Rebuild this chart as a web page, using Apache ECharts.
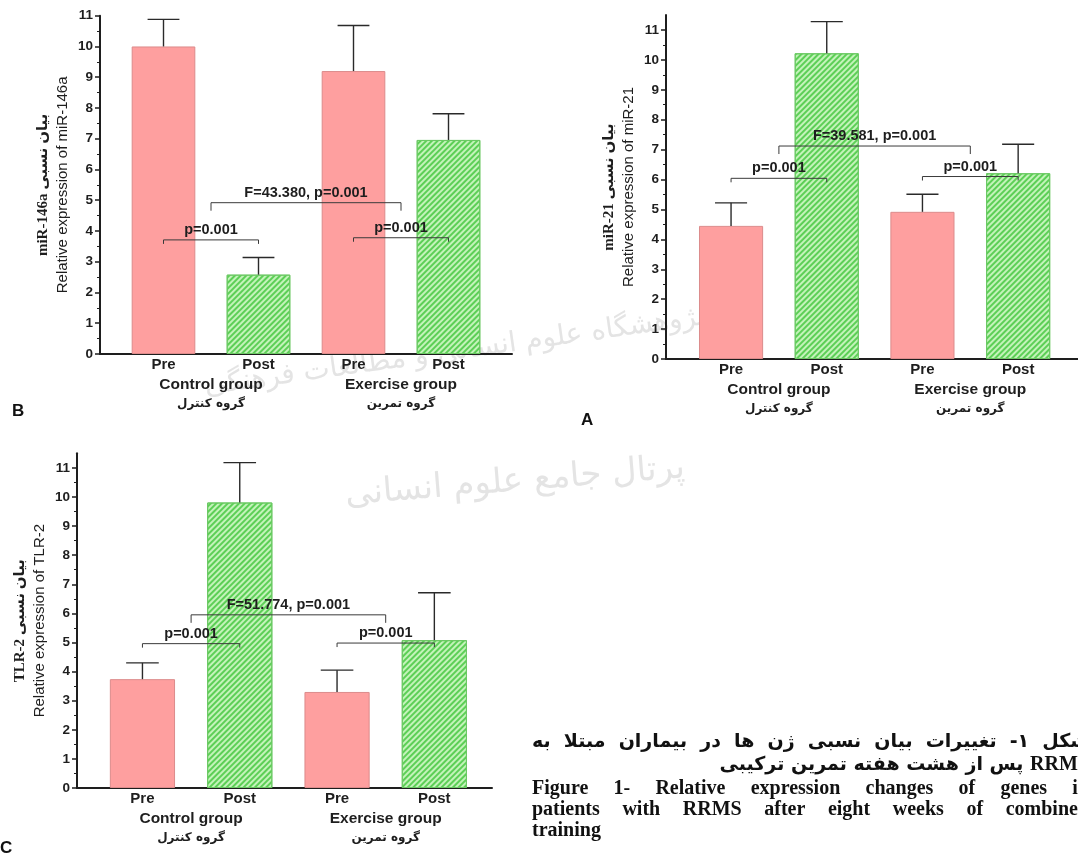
<!DOCTYPE html>
<html>
<head>
<meta charset="utf-8">
<script src="https://cdn.jsdelivr.net/npm/echarts@6/dist/echarts.min.js"></script>
<style>
html,body{margin:0;padding:0;background:#fff;}
#c{width:1078px;height:855px;}
</style>
</head>
<body>
<div id="c"></div>
<script>
// ---------- data ----------
const categories = ['Pre', 'Post', 'Pre', 'Post'];
const groups = ['Control group', 'Exercise group'];
const groupsFa = ['گروه کنترل', 'گروه تمرین'];
const yTickValues = [0, 1, 2, 3, 4, 5, 6, 7, 8, 9, 10, 11];

// Panel B: miR-146a
const miR146aMean = [10.0, 2.58, 9.2, 6.96];
const miR146aSD = [0.88, 0.56, 1.48, 0.85];
const miR146aBracketY = [3.71, 3.78, 4.92];
const miR146aBracketText = ['p=0.001', 'p=0.001', 'F=43.380, p=0.001'];

// Panel A: miR-21
const miR21Mean = [4.45, 10.22, 4.92, 6.21];
const miR21SD = [0.77, 1.06, 0.59, 0.97];
const miR21BracketY = [6.04, 6.10, 7.12];
const miR21BracketText = ['p=0.001', 'p=0.001', 'F=39.581, p=0.001'];

// Panel C: TLR-2
const tlr2Mean = [3.74, 9.81, 3.30, 5.08];
const tlr2SD = [0.56, 1.37, 0.75, 1.63];
const tlr2BracketY = [4.96, 4.98, 5.95];
const tlr2BracketText = ['p=0.001', 'p=0.001', 'F=51.774, p=0.001'];

// bracket endpoints (category indices; several = their midpoint)
const bracketLeft = [[0], [2], [0, 1]];
const bracketRight = [[1], [3], [2, 3]];

// caption (Persian words in reading order, right to left)
const capFa1 = ['شکل', '\u200F۱-\u200F', 'تغییرات', 'بیان', 'نسبی', 'ژن', 'ها', 'در', 'بیماران', 'مبتلا', 'به'];
const capFa2 = ['RRMS', 'پس', 'از', 'هشت', 'هفته', 'تمرین', 'ترکیبی'];
const capEn1 = ['Figure', '1-', 'Relative', 'expression', 'changes', 'of', 'genes', 'in'];
const capEn2 = ['patients', 'with', 'RRMS', 'after', 'eight', 'weeks', 'of', 'combined'];
const capEn3 = ['training'];
const watermark1 = 'پژوهشگاه علوم انسانی و مطالعات فرهنگی';
const watermark2 = 'پرتال جامع علوم انسانی';

// ---------- layout ----------
const panels = [
  { mean: miR146aMean, sd: miR146aSD, bY: miR146aBracketY, bT: miR146aBracketText,
    t1: 'miR-146a بیان نسبی', t2: 'Relative expression of miR-146a',
    axisX: 100, top: 15.7, y0: 354, right: 512, barsLeft: 116, spacing: 95, ymax: 11 },
  { mean: miR21Mean, sd: miR21SD, bY: miR21BracketY, bT: miR21BracketText,
    t1: 'miR-21 بیان نسبی', t2: 'Relative expression of miR-21',
    axisX: 666, top: 15, y0: 359, right: 1078, barsLeft: 683.2, spacing: 95.7, ymax: 11.5 },
  { mean: tlr2Mean, sd: tlr2SD, bY: tlr2BracketY, bT: tlr2BracketText,
    t1: 'TLR-2 بیان نسبی', t2: 'Relative expression of TLR-2',
    axisX: 77, top: 453.3, y0: 788, right: 492, barsLeft: 93.8, spacing: 97.3, ymax: 11.5 }
];

const INK = '#1e1e1e';
const pinkStyle = { color: '#fe9f9f', borderColor: '#dc8b8b', borderWidth: 1 };
const greenStyle = {
  color: '#c4f3ba', borderColor: '#6cc864', borderWidth: 1,
  decal: { symbol: 'rect', symbolSize: 1, color: '#5ccf56', dashArrayX: [1, 0], dashArrayY: [1.6, 1.8], rotation: -Math.PI / 4 }
};

const grids = [], xAxes = [], yAxes = [], series = [];

panels.forEach(p => {
  const gF = grids.length;
  const h = p.y0 - p.top;
  grids.push({ left: p.axisX, top: p.top, width: p.right - p.axisX, height: h, containLabel: false, outerBoundsMode: 'none' });
  grids.push({ left: p.barsLeft, top: p.top, width: 4 * p.spacing, height: h, containLabel: false, outerBoundsMode: 'none' });

  xAxes.push({ gridIndex: gF, type: 'value', min: 0, max: 1, position: 'bottom',
    axisLine: { show: true, onZero: false, lineStyle: { color: INK, width: 2 } },
    axisTick: { show: false }, axisLabel: { show: false }, splitLine: { show: false } });
  yAxes.push({ gridIndex: gF, type: 'value', min: 0, max: p.ymax, interval: 1,
    axisLine: { show: true, lineStyle: { color: INK, width: 2 } },
    axisTick: { show: true, length: 5, lineStyle: { color: INK, width: 1.5 }, customValues: yTickValues },
    minorTick: { show: true, splitNumber: 2, length: 3, lineStyle: { color: INK, width: 1 } },
    splitLine: { show: false },
    axisLabel: { color: INK, fontFamily: 'Liberation Sans', fontWeight: 'bold', fontSize: 13.5, margin: 7,
      customValues: yTickValues, formatter: v => (Math.abs(v - Math.round(v)) < 1e-9 ? String(Math.round(v)) : '') },
    name: '{t|' + p.t1 + '}\n{e|' + p.t2 + '}',
    nameLocation: 'middle', nameRotate: 90, nameGap: 28,
    nameTextStyle: { rich: {
      t: { fontFamily: '"Liberation Serif", "DejaVu Sans"', fontWeight: 'bold', fontSize: 15, lineHeight: 19, color: INK },
      e: { fontFamily: 'Liberation Sans', fontSize: 15, lineHeight: 19, color: INK }
    } } });

  const xB = xAxes.length;
  xAxes.push({ gridIndex: gF + 1, type: 'category', data: categories, position: 'bottom',
    axisLine: { show: false }, axisTick: { show: false },
    axisLabel: { color: INK, fontFamily: 'Liberation Sans', fontWeight: 'bold', fontSize: 15, margin: 3 } });
  xAxes.push({ gridIndex: gF + 1, type: 'category', data: groups, position: 'bottom',
    axisLine: { show: false }, axisTick: { show: false },
    axisLabel: { margin: 21, formatter: (v, i) => '{en|' + v + '}\n{fa|' + groupsFa[i] + '}',
      rich: {
        en: { fontFamily: 'Liberation Sans', fontWeight: 'bold', fontSize: 15.5, lineHeight: 19, color: INK },
        fa: { fontFamily: '"DejaVu Sans"', fontWeight: 'bold', fontSize: 12, lineHeight: 19, color: INK }
      } } });
  const yB = yAxes.length;
  yAxes.push({ gridIndex: gF + 1, type: 'value', min: 0, max: p.ymax, show: false, splitLine: { show: false } });

  series.push({ type: 'bar', xAxisIndex: xB, yAxisIndex: yB, barWidth: '67%', silent: true,
    data: p.mean.map((v, i) => ({ value: v, itemStyle: i % 2 ? greenStyle : pinkStyle })) });

  series.push({ type: 'custom', xAxisIndex: xB, yAxisIndex: yB, silent: true, z: 3,
    encode: { x: 0, y: 1 },
    data: p.mean.map((v, i) => [i, v, p.sd[i]]),
    renderItem: (params, api) => {
      const i = api.value(0), m = api.value(1), s = api.value(2);
      const a = api.coord([i, m]);
      const b = api.coord([i, m + s]);
      const half = api.size([1, 0])[0] * 0.67 / 4;
      const st = { stroke: '#2a2a2a', lineWidth: 1.4 };
      return { type: 'group', children: [
        { type: 'line', shape: { x1: a[0], y1: a[1], x2: b[0], y2: b[1] }, style: st },
        { type: 'line', shape: { x1: b[0] - half, y1: b[1], x2: b[0] + half, y2: b[1] }, style: st }
      ] };
    } });

  series.push({ type: 'custom', xAxisIndex: xB, yAxisIndex: yB, silent: true, z: 4,
    encode: { x: 0, y: 1 },
    data: p.bY.map((y, j) => [j, y]),
    renderItem: (params, api) => {
      const j = params.dataIndex;
      const y = api.value(1);
      const xs = arr => arr.reduce((s, c) => s + api.coord([c, y])[0], 0) / arr.length;
      const x1 = xs(bracketLeft[j]), x2 = xs(bracketRight[j]);
      const yy = api.coord([0, y])[1];
      const tick = bracketLeft[j].length > 1 ? 8 : 4;
      const st = { stroke: '#3a3a3a', lineWidth: 1 };
      return { type: 'group', children: [
        { type: 'polyline', shape: { points: [[x1, yy + tick], [x1, yy], [x2, yy], [x2, yy + tick]] }, style: Object.assign({ fill: null }, st) },
        { type: 'text', x: (x1 + x2) / 2, y: yy - 2.5,
          style: { text: p.bT[j], fill: INK, font: 'bold 14.5px "Liberation Sans"', textAlign: 'center', textVerticalAlign: 'bottom' } }
      ] };
    } });
});

// ---------- caption layout (justified column, right part clipped by the page edge) ----------
const measureCtx = document.createElement('canvas').getContext('2d');
const enFont = 'bold 20px "Liberation Serif"';
const faFont = 'bold 19px "DejaVu Sans"';
const fontOf = w => (/[A-Za-z0-9]/.test(w) ? enFont : faFont);
function widthOf(w) { measureCtx.font = fontOf(w); return measureCtx.measureText(w).width; }
function wordLine(words, dir, left, right, y, justify) {
  const ws = words.map(widthOf);
  const total = ws.reduce((a, b) => a + b, 0);
  measureCtx.font = faFont;
  const gap = justify ? (right - left - total) / (words.length - 1) : measureCtx.measureText(' ').width;
  const out = [];
  let cur = dir === 'ltr' ? left : right;
  words.forEach((w, i) => {
    out.push({ type: 'text', x: cur, y: y, style: { text: w, fill: '#111', font: fontOf(w),
      textAlign: dir === 'ltr' ? 'left' : 'right', textVerticalAlign: 'middle' } });
    cur += (dir === 'ltr' ? 1 : -1) * (ws[i] + gap);
  });
  return out;
}
const colL = 532, colR = 1089;

const graphics = [
  { type: 'text', x: 455, y: 352, rotation: 0.14, z: -10, style: { text: watermark1, fill: '#e4e4e4', font: '28px "DejaVu Sans"', textAlign: 'center', textVerticalAlign: 'middle' } },
  { type: 'text', x: 515, y: 482, rotation: 0.08, z: -10, style: { text: watermark2, fill: '#e4e4e4', font: '34px "DejaVu Sans"', textAlign: 'center', textVerticalAlign: 'middle' } },
  { type: 'text', x: 12, y: 411, style: { text: 'B', fill: '#111', font: 'bold 17px "Liberation Sans"', textVerticalAlign: 'middle' } },
  { type: 'text', x: 581, y: 420, style: { text: 'A', fill: '#111', font: 'bold 17px "Liberation Sans"', textVerticalAlign: 'middle' } },
  { type: 'text', x: 0, y: 848, style: { text: 'C', fill: '#111', font: 'bold 17px "Liberation Sans"', textVerticalAlign: 'middle' } }
].concat(
  wordLine(capFa1, 'rtl', colL, colR, 742, true),
  wordLine(capFa2, 'rtl', colL, colR, 765, false),
  wordLine(capEn1, 'ltr', colL, colR, 789, true),
  wordLine(capEn2, 'ltr', colL, colR, 810, true),
  wordLine(capEn3, 'ltr', colL, colR, 831, false)
);

const chart = echarts.init(document.getElementById('c'), null, { renderer: 'canvas' });
chart.setOption({
  backgroundColor: '#ffffff',
  animation: false,
  grid: grids,
  xAxis: xAxes,
  yAxis: yAxes,
  series: series,
  graphic: graphics
});
</script>
</body>
</html>
